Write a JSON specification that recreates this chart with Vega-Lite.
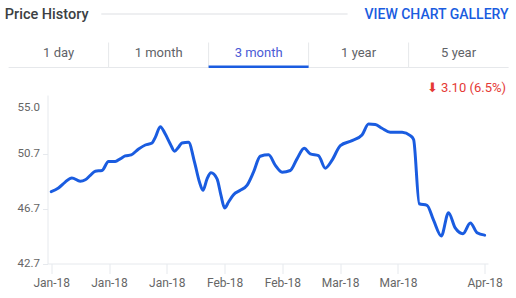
{
  "$schema": "https://vega.github.io/schema/vega-lite/v6.json",
  "padding": {"left": 4.5, "top": 0, "right": 0, "bottom": 0},
  "background": "white",
  "spacing": 13.5,
  "config": {
    "view": {"stroke": null},
    "font": "Roboto",
    "text": {"font": "Roboto"},
    "axis": {"labelFont": "Roboto"},
    "title": {"font": "Roboto"}
  },
  "datasets": {
    "header": [
      {"label": "Price History", "role": "title"},
      {"label": "VIEW CHART GALLERY", "role": "link"}
    ],
    "tabs": [
      {"tab": "1 day", "selected": false},
      {"tab": "1 month", "selected": false},
      {"tab": "3 month", "selected": true},
      {"tab": "1 year", "selected": false},
      {"tab": "5 year", "selected": false}
    ],
    "prices": [
      {"date": "2018-01-02T00:00", "price": 47.95},
      {"date": "2018-01-03T18:00", "price": 48.21},
      {"date": "2018-01-05T09:00", "price": 48.64},
      {"date": "2018-01-07T00:00", "price": 48.95},
      {"date": "2018-01-09T00:00", "price": 48.71},
      {"date": "2018-01-10T06:00", "price": 48.81},
      {"date": "2018-01-11T11:00", "price": 49.13},
      {"date": "2018-01-12T16:00", "price": 49.44},
      {"date": "2018-01-14T07:00", "price": 49.49},
      {"date": "2018-01-15T21:00", "price": 50.15},
      {"date": "2018-01-17T12:00", "price": 50.15},
      {"date": "2018-01-18T17:00", "price": 50.34},
      {"date": "2018-01-19T22:00", "price": 50.55},
      {"date": "2018-01-21T09:00", "price": 50.63},
      {"date": "2018-01-23T04:00", "price": 51.06},
      {"date": "2018-01-24T19:00", "price": 51.35},
      {"date": "2018-01-26T10:00", "price": 51.50},
      {"date": "2018-01-27T05:00", "price": 51.91},
      {"date": "2018-01-28T10:00", "price": 52.69},
      {"date": "2018-01-29T15:00", "price": 52.15},
      {"date": "2018-01-30T20:00", "price": 51.43},
      {"date": "2018-01-31T21:00", "price": 50.90},
      {"date": "2018-02-01T20:00", "price": 51.19},
      {"date": "2018-02-02T16:00", "price": 51.50},
      {"date": "2018-02-04T06:00", "price": 51.55},
      {"date": "2018-02-05T17:00", "price": 50.10},
      {"date": "2018-02-06T22:00", "price": 48.64},
      {"date": "2018-02-07T18:00", "price": 48.04},
      {"date": "2018-02-08T18:00", "price": 48.88},
      {"date": "2018-02-09T17:00", "price": 49.32},
      {"date": "2018-02-11T04:00", "price": 48.88},
      {"date": "2018-02-12T03:00", "price": 47.67},
      {"date": "2018-02-13T00:00", "price": 46.75},
      {"date": "2018-02-13T23:00", "price": 47.19},
      {"date": "2018-02-15T04:00", "price": 47.72},
      {"date": "2018-02-16T19:00", "price": 48.04},
      {"date": "2018-02-18T10:00", "price": 48.40},
      {"date": "2018-02-20T00:00", "price": 49.37},
      {"date": "2018-02-21T15:00", "price": 50.53},
      {"date": "2018-02-23T16:00", "price": 50.63},
      {"date": "2018-02-25T07:00", "price": 49.86},
      {"date": "2018-02-26T22:00", "price": 49.37},
      {"date": "2018-02-28T22:00", "price": 49.49},
      {"date": "2018-03-02T13:00", "price": 50.34},
      {"date": "2018-03-04T07:00", "price": 51.11},
      {"date": "2018-03-05T18:00", "price": 50.70},
      {"date": "2018-03-07T18:00", "price": 50.58},
      {"date": "2018-03-09T09:00", "price": 49.66},
      {"date": "2018-03-11T00:00", "price": 50.22},
      {"date": "2018-03-13T01:00", "price": 51.31},
      {"date": "2018-03-15T21:00", "price": 51.67},
      {"date": "2018-03-18T07:00", "price": 52.08},
      {"date": "2018-03-19T21:00", "price": 52.88},
      {"date": "2018-03-21T12:00", "price": 52.84},
      {"date": "2018-03-23T03:00", "price": 52.57},
      {"date": "2018-03-25T03:00", "price": 52.28},
      {"date": "2018-03-28T00:00", "price": 52.28},
      {"date": "2018-03-30T00:00", "price": 52.04},
      {"date": "2018-03-30T19:00", "price": 51.75},
      {"date": "2018-04-01T04:00", "price": 47.06},
      {"date": "2018-04-03T01:00", "price": 46.95},
      {"date": "2018-04-04T15:00", "price": 45.86},
      {"date": "2018-04-06T12:00", "price": 44.71},
      {"date": "2018-04-08T06:00", "price": 46.41},
      {"date": "2018-04-09T21:00", "price": 45.30},
      {"date": "2018-04-11T18:00", "price": 44.88},
      {"date": "2018-04-13T13:00", "price": 45.66},
      {"date": "2018-04-15T04:00", "price": 44.95},
      {"date": "2018-04-17T00:00", "price": 44.77}
    ]
  },
  "vconcat": [
    {
      "width": 422.2,
      "height": 28,
      "data": {"name": "header"},
      "layer": [
        {
          "transform": [{"filter": "datum.role === 'title'"}],
          "mark": {"type": "text", "align": "left", "baseline": "middle", "dy": 1, "fontSize": 14.5, "fontWeight": 500, "color": "#3c4043"},
          "encoding": {
            "x": {"datum": 0, "type": "quantitative", "scale": {"domain": [0, 1], "range": [-42.7, 461.1], "nice": false, "zero": false}, "axis": null},
            "text": {"field": "label"}
          }
        },
        {
          "transform": [{"filter": "datum.role === 'title'"}],
          "mark": {"type": "rule", "color": "#e8eaed", "strokeWidth": 1.5},
          "encoding": {
            "x": {"datum": 0.1915, "type": "quantitative"},
            "x2": {"datum": 0.6804}
          }
        },
        {
          "transform": [{"filter": "datum.role === 'link'"}],
          "mark": {"type": "text", "align": "right", "baseline": "middle", "dy": 1, "fontSize": 14, "fontWeight": 500, "color": "#1a5ce0"},
          "encoding": {
            "x": {"datum": 1, "type": "quantitative"},
            "text": {"field": "label"}
          }
        }
      ]
    },
    {
      "width": 422.2,
      "height": 25.5,
      "data": {"name": "tabs"},
      "encoding": {
        "x": {
          "field": "tab",
          "type": "nominal",
          "scale": {"type": "band", "domain": ["1 day", "1 month", "3 month", "1 year", "5 year"], "range": [-38.9, 461.1], "paddingInner": 0, "paddingOuter": 0},
          "axis": null
        }
      },
      "layer": [
        {
          "mark": {"type": "rect", "color": "#e6e8eb"},
          "encoding": {
            "y": {"datum": 0, "type": "quantitative", "scale": {"domain": [0, 1], "nice": false, "zero": false}, "axis": null},
            "y2": {"datum": 0.04}
          }
        },
        {
          "transform": [{"filter": "datum.tab !== '1 day'"}],
          "mark": {"type": "rule", "color": "#e6e8eb", "strokeWidth": 1},
          "encoding": {
            "x": {"field": "tab", "type": "nominal", "bandPosition": 0},
            "y": {"datum": 0, "type": "quantitative"},
            "y2": {"datum": 1}
          }
        },
        {
          "transform": [{"filter": "datum.selected"}],
          "mark": {"type": "rect", "color": "#1a5ce0"},
          "encoding": {
            "y": {"datum": 0, "type": "quantitative"},
            "y2": {"datum": 0.1}
          }
        },
        {
          "mark": {"type": "text", "fontSize": 13, "baseline": "middle", "dy": -2.2},
          "encoding": {
            "text": {"field": "tab"},
            "color": {"condition": {"test": "datum.selected", "value": "#4a5bd6"}, "value": "#5f6368"}
          }
        }
      ]
    },
    {
      "width": 440.5,
      "height": 168.5,
      "data": {"name": "prices"},
      "title": {"text": "⬇ 3.10 (6.5%)", "anchor": "end", "frame": "group", "dx": 18, "color": "#e53935", "fontSize": 13, "fontWeight": "normal", "offset": 0},
      "mark": {"type": "line", "interpolate": "monotone", "strokeWidth": 3, "color": "#1a5ce0", "strokeCap": "round", "strokeJoin": "round"},
      "encoding": {
        "x": {
          "field": "date",
          "type": "temporal",
          "scale": {
            "domain": [
              {"year": 2018, "month": 1, "date": 1, "hours": 2, "minutes": 6},
              {"year": 2018, "month": 4, "date": 17, "hours": 19, "minutes": 40}
            ],
            "nice": false
          },
          "axis": {
            "values": [
              {"year": 2018, "month": 1, "date": 2},
              {"year": 2018, "month": 1, "date": 16},
              {"year": 2018, "month": 1, "date": 30},
              {"year": 2018, "month": 2, "date": 13},
              {"year": 2018, "month": 2, "date": 27},
              {"year": 2018, "month": 3, "date": 13},
              {"year": 2018, "month": 3, "date": 27},
              {"year": 2018, "month": 4, "date": 17}
            ],
            "format": "%b-%y",
            "title": null,
            "grid": false,
            "domainColor": "#e6e9ed",
            "tickColor": "#e6e9ed",
            "tickSize": 10,
            "labelPadding": 4,
            "labelFontSize": 12,
            "labelColor": "#666666",
            "labelFlush": false,
            "labelOverlap": false
          }
        },
        "y": {
          "field": "price",
          "type": "quantitative",
          "scale": {"domain": [42.7, 55], "nice": false, "zero": false},
          "axis": {
            "values": [42.7, 46.7, 50.7, 55],
            "format": ".1f",
            "title": null,
            "grid": false,
            "domainColor": "#e6e9ed",
            "tickColor": "#e6e9ed",
            "tickSize": 5,
            "labelPadding": 3,
            "labelFontSize": 11.5,
            "labelColor": "#666666",
            "labelFlush": false,
            "labelOverlap": false,
            "minExtent": 42.7,
            "tickOpacity": {"condition": {"test": "datum.value > 54", "value": 0}, "value": 1},
            "labelOffset": {"condition": {"test": "datum.value > 54", "value": 12}, "value": 0}
          }
        }
      }
    }
  ]
}
